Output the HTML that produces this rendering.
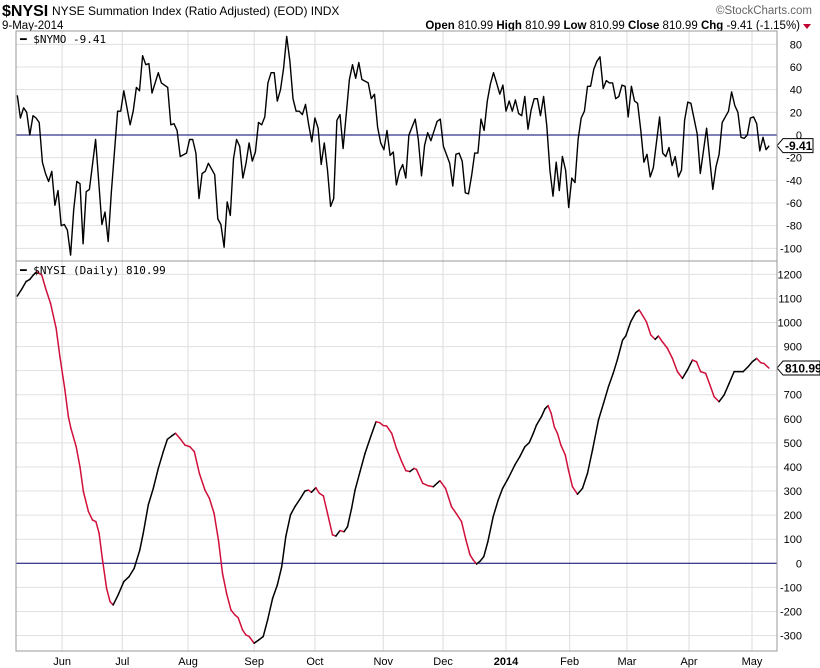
<!DOCTYPE html>
<html><head><meta charset="utf-8"><style>
body{margin:0;background:#fff;}
svg{display:block;font-family:"Liberation Sans",sans-serif;}
</style></head><body>
<svg id="chart" width="820" height="668">
<g>
<text x="2" y="16" font-size="16" font-weight="bold">$NYSI</text>
<text x="52" y="15" font-size="12">NYSE Summation Index (Ratio Adjusted) (EOD) INDX</text>
<text x="812" y="14" font-size="11.5" fill="#666" text-anchor="end">©StockCharts.com</text>
<text x="2" y="29" font-size="11.5">9-May-2014</text>
<text x="800" y="29" font-size="11.5" text-anchor="end"><tspan font-weight="bold">Open</tspan> 810.99 <tspan font-weight="bold">High</tspan> 810.99 <tspan font-weight="bold">Low</tspan> 810.99 <tspan font-weight="bold">Close</tspan> 810.99 <tspan font-weight="bold">Chg</tspan> -9.41 (-1.15%)</text>
<path d="M803 24 L811 24 L807 29 Z" fill="#c00030"/>
</g>
<g id="grid"></g>
<g id="marks"></g>
<rect x="16" y="31" width="761" height="230" fill="none" stroke="#999"/>
<rect x="16" y="261" width="761" height="390" fill="none" stroke="#999"/>
<text x="20" y="43" font-size="11" font-family="DejaVu Sans Mono, monospace">━ $NYMO -9.41</text>
<text x="20" y="274" font-size="11" font-family="DejaVu Sans Mono, monospace">━ $NYSI (Daily) 810.99</text>
</svg>
<script>
const nymoDays=[0,1,2,3,4,5,6,7,8,9,10,11,12,13,14,15,16,17,18,19,20,21,22,23,25,27,28,29,30,32,33,34,36,37,38,39,40,41,42,43,45,46,48,49,50,51,52,54,55,56,57,58,59,60,61,63,64,65,66,67,68,69,70,71,72,73,74,75,76,77,78,79,80,81,82,83,84,85,86,87,88,89,90,91,92,93,94,95,96,97,98,99,100,101,102,103,104,106,107,108,109,110,112,113,114,115,116,117,118,119,120,121,122,123,124,125,127,128,129,130,131,132,134,135,136,138,139,140,141,142,143,144,145,146,147,148,149,150,151,152,153,154,155,156,157,158,159,160,161,162,163,164,165,166,167,168,169,170,171,172,173,174,175,176,177,178,179,180,181,182,183,184,185,186,187,188,189,190,191,192,193,194,195,196,197,198,199,200,201,202,203,205,206,207,208,209,210,211,212,213,214,215,217,218,220,222,223,224,225,227,228,229,230,231,232,233,234,235,236,237,238,239,240];
const nymoVals=[35,15,24,20,0,17,15,11,-24,-34,-41,-32,-62,-49,-80,-79,-84,-106,-66,-41,-43,-96,-50,-48,-4,-79,-68,-94,-51,21,21,39,9,21,42,39,70,62,63,37,55,46,42,9,10,4,-19,-16,-4,-4,-16,-56,-34,-32,-25,-35,-74,-79,-99,-59,-71,-21,-4,-10,-38,-25,-7,-23,-15,11,9,16,46,55,55,30,40,59,87,65,32,21,21,18,27,9,-6,15,6,-26,-7,-31,-63,-56,13,18,-12,49,62,50,64,49,46,32,36,7,-7,-13,4,-18,-15,-44,-32,-26,-38,0,14,-4,-36,-9,2,-5,12,14,-10,-25,-45,-17,-16,-23,-51,-52,-36,-16,-16,14,4,30,45,55,46,36,44,21,30,21,31,19,17,34,5,22,32,32,17,34,8,-31,-54,-24,-49,-19,-31,-64,-38,-42,-4,15,21,43,43,58,65,69,41,48,46,46,32,34,44,43,16,43,30,28,4,-24,-17,-37,-29,16,-16,-19,-11,-27,-19,-37,-31,13,29,28,1,-34,6,-48,-28,-17,11,21,38,26,20,-2,-3,0,15,16,10,-14,-2,-13,-9.41];
const nysiDays=[0,1.4,2.8,4,5.1,6.2,7.8,9.2,10.6,12.4,13.6,15.2,16.3,17.1,18.8,20,21.1,22.7,24,25.1,26.1,27.2,28.5,29.6,30.6,32.2,34,35.7,37.3,39.1,40.2,41.8,43.4,45,46.6,47.9,49.3,50.5,51.9,53.5,55.1,56.5,58.1,59.9,61.3,62.8,64.2,65.5,66.8,68.2,69.5,70.5,71.9,73,74,75.6,77.1,78.5,79.9,81.5,83,84.4,85.7,87.2,88.6,90.2,91.8,92.9,93.9,95.3,96.4,97.7,99,100.6,101.7,103,104.3,105.4,106.7,107.8,109.4,111,112.8,114.5,115.7,116.8,117.9,119.5,121,122.7,124,125.3,126.6,127.4,129.4,131.2,132.8,134.9,136.7,138.6,140.2,141.8,143.2,144.5,145.5,146.6,147.8,148.9,150.2,151.9,153.5,154.9,156.7,158.8,160.4,162,163.4,164.7,165.7,167.3,168.4,169.4,170.4,171.4,172.4,173.5,174.9,175.9,177.2,178.8,180.4,182,183.6,185.5,187.1,188.7,190.2,191.5,193.2,194.2,195.8,197.4,198.5,199.5,200.8,202.2,203.6,204.6,205.9,207.5,209.1,210.7,212.3,213.9,215.5,216.8,218.1,219.7,221.1,222.4,224,225.6,227.2,228.8,230.3,231.7,233.3,234.6,236,237.3,238.3,239.9];
const nysiVals=[1110,1138,1170,1179,1197,1211,1197,1135,1080,976,858,720,609,561,484,401,298,215,180,173,125,14,-104,-159,-173,-131,-76,-55,-21,55,125,242,311,394,464,515,529,540,519,491,484,464,374,304,270,208,97,-42,-125,-194,-215,-226,-277,-298,-304,-332,-318,-304,-235,-145,-90,-14,111,201,235,266,300,304,295,314,291,280,208,118,113,136,131,152,228,304,381,457,526,588,584,572,570,540,478,422,385,381,394,390,332,322,318,343,311,235,205,173,97,35,14,-3,10,28,90,194,263,311,353,408,443,484,501,540,574,609,641,655,623,567,540,491,450,388,318,287,311,374,471,595,664,734,789,844,927,944,1003,1041,1052,1031,1003,948,930,944,920,893,851,796,768,803,844,837,796,789,740,692,671,699,747,796,796,796,817,837,851,833,830,810.99];
const monthLabels=["Jun","Jul","Aug","Sep","Oct","Nov","Dec","2014","Feb","Mar","Apr","May"];
const monthDays=[14.3,33.5,54.5,75.6,95,116.8,135.9,156,176.3,194.6,214.4,234.5];
const nymoTicks=[-100,-80,-60,-40,-20,0,20,40,60,80];
const nysiTicks=[-300,-200,-100,0,100,200,300,400,500,600,700,800,900,1000,1100,1200];

const NS="http://www.w3.org/2000/svg";
const xS=d=>17.3+d*3.133;
const yTop=v=>135-v*1.1333;
const yBot=v=>563.3-v*0.2408;
const grid=document.getElementById('grid'), marks=document.getElementById('marks');
function mk(tag,attrs,parent){const e=document.createElementNS(NS,tag);for(const k in attrs)e.setAttribute(k,attrs[k]);parent.appendChild(e);return e;}

monthDays.forEach((d,i)=>{
  const x=xS(d);
  [[31,261],[261,651]].forEach(r=>{
    const l=mk('line',{x1:x,x2:x,y1:r[0],y2:r[1],stroke:'#dcdcdc'},grid);
    
    
  });
  const tx=mk('text',{x:x,y:665,'font-size':11,'text-anchor':'middle','font-weight':monthLabels[i]==='2014'?'bold':'normal'},grid);
  tx.textContent=monthLabels[i];
  
  
});
nymoTicks.forEach(t=>{
  const y=yTop(t);
  const l=mk('line',{x1:16,x2:777,y1:y,y2:y,stroke:t===0?'#000070':'#e0e0e0','stroke-width':1},grid);
  
  
  const tx=mk('text',{x:802,y:y+4,'font-size':11,'text-anchor':'end'},grid);
  tx.textContent=t;
  
  
});
nysiTicks.forEach(t=>{
  const y=yBot(t);
  const l=mk('line',{x1:16,x2:777,y1:y,y2:y,stroke:t===0?'#000070':'#e0e0e0','stroke-width':1},grid);
  
  
  const tx=mk('text',{x:802,y:y+4,'font-size':11,'text-anchor':'end'},grid);
  tx.textContent=t;
  
  
});

const nymoPath=mk('polyline',{points:nymoDays.map((d,i)=>xS(d).toFixed(1)+','+yTop(nymoVals[i]).toFixed(1)).join(' '),fill:'none',stroke:'#000','stroke-width':1.4,'stroke-linejoin':'round'},marks);



for(let i=1;i<nysiDays.length;i++){
  const up=nysiVals[i]>=nysiVals[i-1];
  const s=mk('line',{x1:xS(nysiDays[i-1]),y1:yBot(nysiVals[i-1]),x2:xS(nysiDays[i]),y2:yBot(nysiVals[i]),stroke:up?'#000':'#d0103a','stroke-width':1.5,'stroke-linecap':'round'},marks);
  
  
}

function tag(y,txt,name,w){
  const g=mk('g',{},marks);
  
  
  mk('path',{d:`M777 ${y} L783 ${y-7} L${783+w} ${y-7} L${783+w} ${y+7} L783 ${y+7} Z`,fill:'#fff',stroke:'#000'},g);
  const t=mk('text',{x:785,y:y+4.5,'font-size':12,'font-weight':'bold'},g);
  t.textContent=txt;
}
tag(yTop(nymoVals[nymoVals.length-1]),'-9.41','nymo-value-tag',30);
tag(yBot(nysiVals[nysiVals.length-1]),'810.99','nysi-value-tag',37);
</script>
</body></html>
